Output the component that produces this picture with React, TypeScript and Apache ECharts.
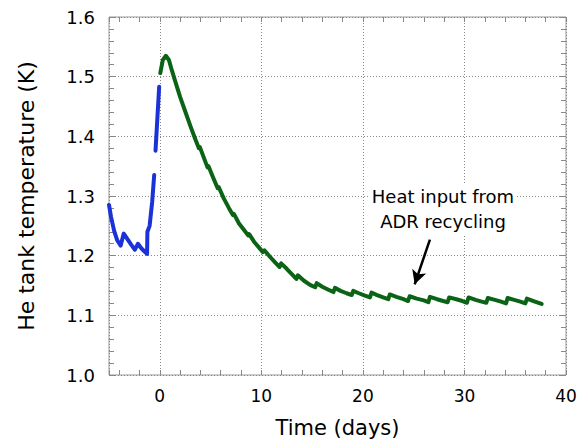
import React, { useEffect, useRef } from "react";
import * as echarts from "echarts";

// Blue segment before the transition (days, K)
const blueA: [number, number][] = [
  [-5.0, 1.285], [-4.8, 1.265], [-4.5, 1.242], [-4.2, 1.226], [-3.85, 1.217],
  [-3.55, 1.237], [-3.2, 1.228], [-2.8, 1.218], [-2.45, 1.210], [-2.15, 1.220],
  [-1.8, 1.212], [-1.5, 1.207], [-1.25, 1.203], [-1.22, 1.240], [-1.0, 1.250],
  [-0.75, 1.290], [-0.55, 1.335],
];
const blueB: [number, number][] = [
  [-0.42, 1.376], [-0.06, 1.483],
];
// Green recovery curve with ADR recycling saw-teeth
const green: [number, number][] = [
  [0.05, 1.506], [0.3, 1.528], [0.6, 1.535], [0.9, 1.528], [1.2, 1.510],
  [1.6, 1.488], [2.0, 1.466], [2.5, 1.442], [3.0, 1.418], [3.5, 1.395],
  [3.85, 1.380], [3.95, 1.382], [4.3, 1.366], [4.7, 1.348], [4.8, 1.350],
  [5.2, 1.333], [5.7, 1.313], [5.8, 1.315], [6.3, 1.296], [6.8, 1.280],
  [7.2, 1.268], [7.3, 1.270], [7.8, 1.254], [8.3, 1.243], [8.7, 1.234],
  [8.8, 1.236], [9.3, 1.223], [9.8, 1.213], [10.15, 1.206], [10.3, 1.209],
  [10.8, 1.199], [11.4, 1.188], [11.8, 1.181], [11.95, 1.187], [12.5, 1.178],
  [13.0, 1.169], [13.45, 1.161], [13.6, 1.167], [14.2, 1.158], [14.8, 1.151],
  [15.3, 1.147], [15.45, 1.154], [16.0, 1.148], [16.6, 1.143], [17.1, 1.139],
  [17.25, 1.146], [17.8, 1.141], [18.4, 1.137], [18.9, 1.134], [19.05, 1.141],
  [19.6, 1.137], [20.2, 1.133], [20.7, 1.130], [20.85, 1.138], [21.4, 1.134],
  [22.0, 1.130], [22.5, 1.127], [22.65, 1.135], [23.3, 1.131], [24.0, 1.127],
  [24.45, 1.124], [24.6, 1.132], [25.3, 1.128], [26.0, 1.125], [26.45, 1.122],
  [26.6, 1.131], [27.3, 1.127], [27.9, 1.124], [28.35, 1.122], [28.5, 1.130],
  [29.2, 1.127], [29.8, 1.124], [30.25, 1.121], [30.4, 1.130], [31.1, 1.126],
  [31.7, 1.123], [32.15, 1.121], [32.3, 1.129], [33.0, 1.126], [33.6, 1.123],
  [34.1, 1.120], [34.25, 1.129], [34.9, 1.126], [35.5, 1.123], [36.0, 1.120],
  [36.15, 1.128], [36.8, 1.124], [37.6, 1.119],
];
const arrowTail: [number, number] = [26.6, 1.227];
const arrowHead: [number, number] = [25.1, 1.152];
const annotation = "Heat input from\nADR recycling";
const xTitle = "Time (days)";
const yTitle = "He tank temperature (K)";

const FONT = "DejaVu Sans";

export default function App() {
  const ref = useRef<HTMLDivElement>(null);
  useEffect(() => {
    if (!ref.current) return;
    const chart = echarts.init(ref.current, null, { renderer: "svg" });
    const gridLine = { show: true, lineStyle: { color: "#888", type: [1, 2] as any, width: 1 } };
    const minorAxisX = (pos: "top" | "bottom") => ({
      type: "value",
      position: pos,
      offset: 0,
      min: -5,
      max: 40,
      splitNumber: 22,
      axisLine: { show: false, onZero: false },
      axisLabel: { show: false },
      splitLine: { show: false },
      axisTick: { show: true, inside: true, length: 5, lineStyle: { color: "#888" } },
    });
    chart.setOption({
      animation: false,
      backgroundColor: "#fff",
      grid: {
        left: 109, right: 14, top: 17, bottom: 67,
        show: true, borderColor: "#999", borderWidth: 1, backgroundColor: "transparent",
      },
      xAxis: [
        {
          type: "value",
          position: "bottom",
          min: -5,
          max: 40,
          splitNumber: 5,
          name: xTitle,
          nameLocation: "middle",
          nameGap: 42,
          nameTextStyle: { fontFamily: FONT, fontSize: 21, color: "#000" },
          axisLine: { show: false, onZero: false },
          axisTick: { show: false },
          axisLabel: {
            fontFamily: FONT, fontSize: 17, color: "#000", margin: 12,
            formatter: (v: number) => (v < 0 ? "" : String(v)),
          },
          splitLine: gridLine,
        },
        minorAxisX("bottom"),
        minorAxisX("top"),
      ],
      yAxis: [
        {
          type: "value",
          position: "left",
          min: 1.0,
          max: 1.6,
          interval: 0.1,
          name: yTitle,
          nameLocation: "middle",
          nameGap: 72,
          nameTextStyle: { fontFamily: FONT, fontSize: 22, color: "#000" },
          axisLine: { show: false, onZero: false },
          axisTick: { show: true, inside: true, length: 6, lineStyle: { color: "#888" } },
          minorTick: { show: true, splitNumber: 5, length: 5, lineStyle: { color: "#888" } },
          axisLabel: {
            fontFamily: FONT, fontSize: 18, color: "#000", margin: 14,
            formatter: (v: number) => v.toFixed(1),
          },
          splitLine: gridLine,
        },
        {
          type: "value",
          position: "right",
          min: 1.0,
          max: 1.6,
          interval: 0.1,
          axisLine: { show: false, onZero: false },
          axisTick: { show: true, inside: true, length: 6, lineStyle: { color: "#888" } },
          minorTick: { show: true, splitNumber: 5, length: 5, lineStyle: { color: "#888" } },
          axisLabel: { show: false },
          splitLine: { show: false },
        },
      ],
      series: [
        {
          type: "line", data: blueA, showSymbol: false, symbol: "none",
          lineStyle: { color: "#1a32d8", width: 4, cap: "round", join: "round" },
          z: 5,
        },
        {
          type: "line", data: blueB, showSymbol: false, symbol: "none",
          lineStyle: { color: "#1a32d8", width: 4, cap: "round", join: "round" },
          z: 5,
        },
        {
          type: "line", data: green, showSymbol: false, symbol: "none",
          lineStyle: { color: "#0b6415", width: 4, cap: "round", join: "round" },
          z: 5,
          markLine: {
            silent: true,
            animation: false,
            label: { show: false },
            lineStyle: { color: "#000", width: 2.5, type: "solid" },
            data: [[
              { coord: arrowTail, symbol: "none" },
              { coord: arrowHead, symbol: "arrow", symbolSize: [11, 14] },
            ]],
          },
        },
      ],
      graphic: [
        {
          type: "text",
          x: 443,
          y: 184,
          z: 10,
          style: {
            text: annotation,
            textAlign: "center",
            fontFamily: FONT,
            fontSize: 18,
            lineHeight: 25,
            fill: "#000",
            backgroundColor: "#fff",
            padding: [0, 2],
          },
        },
      ],
    });
    return () => chart.dispose();
  }, []);
  return (
    <div
      ref={ref}
      style={{ position: "fixed", left: 0, top: 0, width: 580, height: 443 }}
    />
  );
}
